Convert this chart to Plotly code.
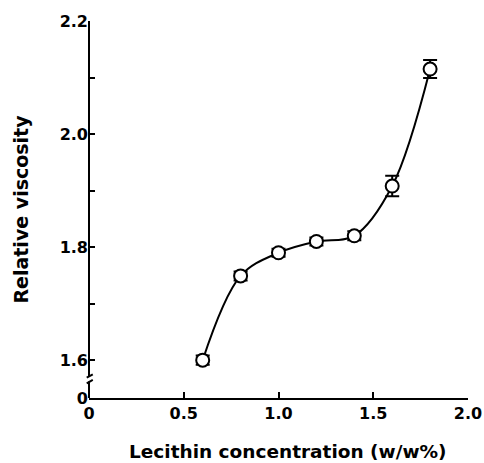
import plotly.graph_objects as go

conc = [0.6, 0.8, 1.0, 1.2, 1.4, 1.6, 1.8]
visc = [1.600, 1.749, 1.790, 1.810, 1.820, 1.908, 2.115]
err = [0.008, 0.008, 0.007, 0.007, 0.008, 0.018, 0.016]

x_ticks = [0, 0.5, 1.0, 1.5, 2.0]
x_labels = ["0", "0.5", "1.0", "1.5", "2.0"]
y_zero = 1.533  # position standing in for 0 (broken axis)
y_ticks = [y_zero, 1.6, 1.8, 2.0, 2.2]
y_labels = ["0", "1.6", "1.8", "2.0", "2.2"]
y_minor = [1.7, 1.9, 2.1]
x_title = "Lecithin concentration (w/w%)"
y_title = "Relative viscosity"

FONT = "DejaVu Sans, sans-serif"

fig = go.Figure()
fig.add_trace(go.Scatter(
    x=conc, y=visc, mode="lines",
    line=dict(color="black", width=2, shape="spline", smoothing=1.0),
    hoverinfo="skip", showlegend=False))
fig.add_trace(go.Scatter(
    x=conc, y=visc, mode="markers",
    marker=dict(symbol="circle", size=13, color="white",
                line=dict(color="black", width=2)),
    error_y=dict(type="data", array=err, visible=True, color="black",
                 thickness=2, width=7),
    showlegend=False))

fig.update_layout(
    width=484, height=463,
    margin=dict(l=89, r=16, t=21, b=65),
    paper_bgcolor="white", plot_bgcolor="white",
    font=dict(family=FONT, size=16, color="black"),
    xaxis=dict(
        range=[0, 2.0], tickvals=x_ticks,
        ticktext=["<b>%s</b>" % t for t in x_labels],
        ticks="inside", ticklen=6, tickwidth=2, tickcolor="black",
        showline=True, linecolor="black", linewidth=2, showgrid=False,
        zeroline=False, tickfont=dict(family=FONT, size=16),
        automargin=False,
    ),
    yaxis=dict(
        range=[y_zero, 2.2], tickvals=y_ticks,
        ticktext=["<b>%s</b>" % t for t in y_labels],
        ticks="inside", ticklen=6, tickwidth=2, tickcolor="black",
        showline=False, showgrid=False, zeroline=False,
        tickfont=dict(family=FONT, size=16),
        automargin=False,
        minor=dict(tickvals=y_minor, ticks="inside", ticklen=6,
                   tickwidth=2, tickcolor="black"),
        title=dict(text="<b>%s</b>" % y_title,
                   font=dict(family=FONT, size=19), standoff=26),
    ),
)

fig.add_annotation(text="<b>%s</b>" % x_title, xref="paper", yref="paper",
                   x=0.525, y=-0.143, xanchor="center", yanchor="middle",
                   showarrow=False, font=dict(family=FONT, size=18.5))

# broken y axis line
fig.add_shape(type="line", xref="paper", yref="y", x0=0, x1=0,
              y0=1.572, y1=2.2, line=dict(color="black", width=2))
fig.add_shape(type="line", xref="paper", yref="y", x0=0, x1=0,
              y0=y_zero, y1=1.562, line=dict(color="black", width=2))
fig.add_shape(type="line", xref="paper", yref="y", x0=-0.006, x1=0.010,
              y0=1.569, y1=1.575, line=dict(color="black", width=2))
fig.add_shape(type="line", xref="paper", yref="y", x0=-0.006, x1=0.010,
              y0=1.559, y1=1.565, line=dict(color="black", width=2))

fig.write_html("out.html")
